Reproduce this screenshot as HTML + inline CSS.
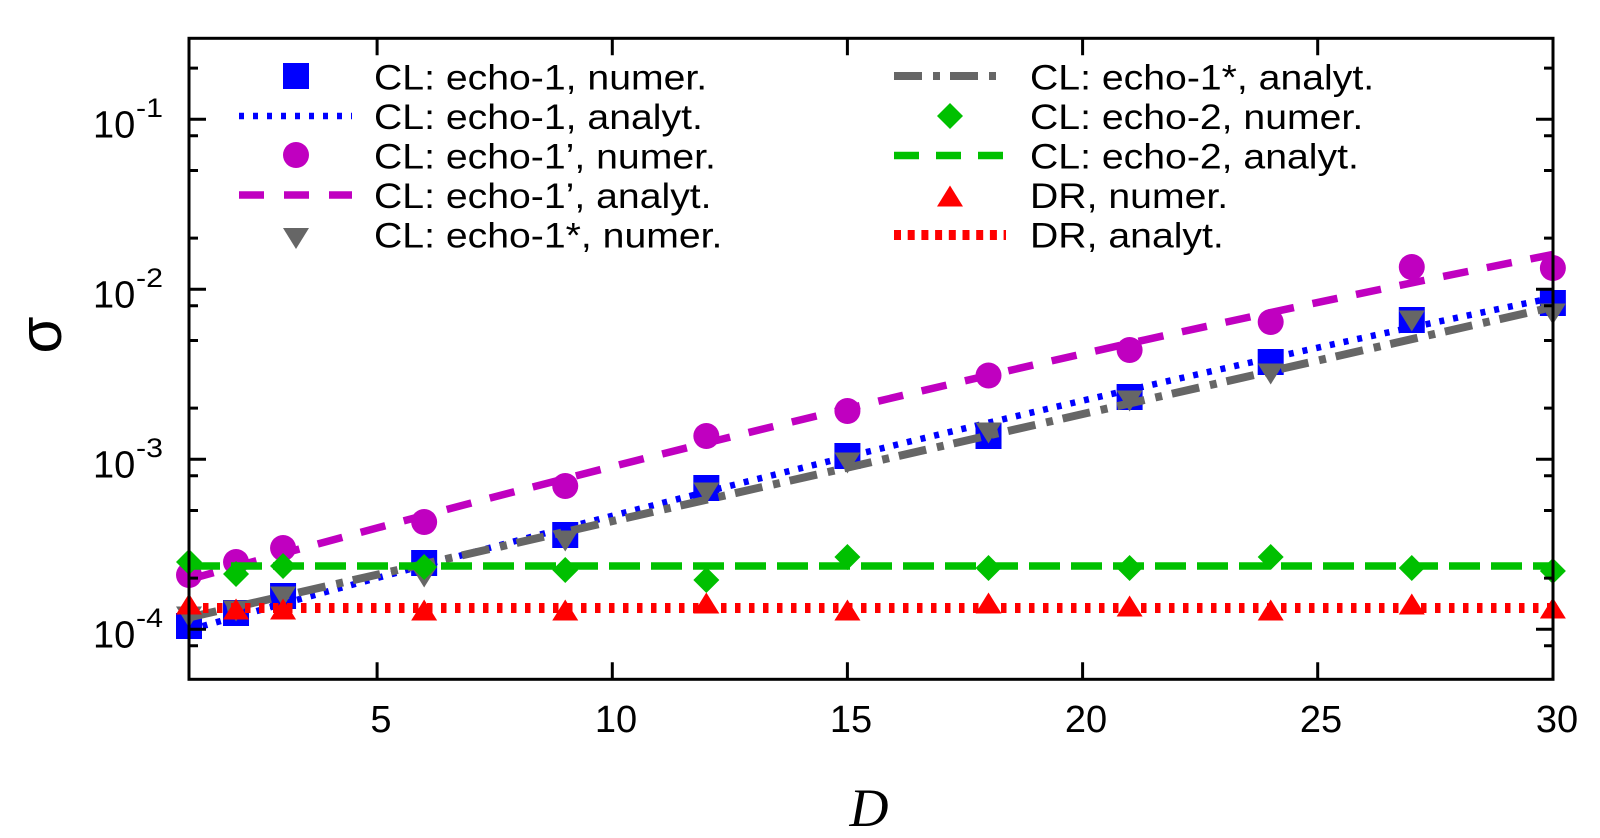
<!DOCTYPE html>
<html>
<head>
<meta charset="utf-8">
<style>
html,body{margin:0;padding:0;background:#fff;}
svg{display:block;}
text{font-family:"Liberation Sans",Arial,sans-serif;fill:#000;}
</style>
</head>
<body>
<svg width="1600" height="838" viewBox="0 0 1600 838" xmlns="http://www.w3.org/2000/svg">
<defs>
  <rect id="sq" x="-13" y="-13" width="26" height="26"/>
  <circle id="ci" cx="0" cy="0" r="13"/>
  <polygon id="tdn" points="-13,-10.5 13,-10.5 0,10.5"/>
  <polygon id="tup" points="-13,10.5 13,10.5 0,-10.5"/>
  <polygon id="dia" points="0,-13 13,0 0,13 -13,0"/>
</defs>
<rect width="1600" height="838" fill="#fff"/>

<!-- echo-1 numer: blue squares -->
<g fill="#0000ff">
  <use href="#sq" x="189" y="626"/>
  <use href="#sq" x="236.03" y="613"/>
  <use href="#sq" x="283.06" y="596"/>
  <use href="#sq" x="424.15" y="563"/>
  <use href="#sq" x="565.24" y="535"/>
  <use href="#sq" x="706.33" y="488"/>
  <use href="#sq" x="847.42" y="456"/>
  <use href="#sq" x="988.51" y="436"/>
  <use href="#sq" x="1129.6" y="397"/>
  <use href="#sq" x="1270.69" y="362"/>
  <use href="#sq" x="1411.78" y="320"/>
  <use href="#sq" x="1552.87" y="303"/>
</g>
<!-- echo-1 analyt: blue dotted -->
<path d="M189,629.93 Q871,438.1 1553,297.74" fill="none" stroke="#0000ff" stroke-width="6.5" stroke-dasharray="5 9"/>

<!-- echo-1' numer: magenta circles -->
<g fill="#c000c0">
  <use href="#ci" x="189" y="575"/>
  <use href="#ci" x="236.03" y="562"/>
  <use href="#ci" x="283.06" y="548"/>
  <use href="#ci" x="424.15" y="522"/>
  <use href="#ci" x="565.24" y="486"/>
  <use href="#ci" x="706.33" y="436"/>
  <use href="#ci" x="847.42" y="411"/>
  <use href="#ci" x="988.51" y="375.5"/>
  <use href="#ci" x="1129.6" y="350"/>
  <use href="#ci" x="1270.69" y="322"/>
  <use href="#ci" x="1411.78" y="267"/>
  <use href="#ci" x="1552.87" y="268"/>
</g>
<!-- echo-1' analyt: magenta dashed -->
<path d="M189,579.46 Q871,388.92 1553,254.43" fill="none" stroke="#c000c0" stroke-width="7.5" stroke-dasharray="25.5 19"/>

<!-- echo-1* numer: gray down triangles -->
<g fill="#666666">
  <use href="#tdn" x="189" y="617"/>
  <use href="#tdn" x="236.03" y="611"/>
  <use href="#tdn" x="283.06" y="597"/>
  <use href="#tdn" x="424.15" y="577"/>
  <use href="#tdn" x="565.24" y="541"/>
  <use href="#tdn" x="706.33" y="493"/>
  <use href="#tdn" x="847.42" y="463"/>
  <use href="#tdn" x="988.51" y="433"/>
  <use href="#tdn" x="1129.6" y="401"/>
  <use href="#tdn" x="1270.69" y="374"/>
  <use href="#tdn" x="1411.78" y="321"/>
  <use href="#tdn" x="1552.87" y="314"/>
</g>
<!-- echo-1* analyt: gray dash-dot -->
<path d="M189,617.5 L1553,307" fill="none" stroke="#666666" stroke-width="8" stroke-dasharray="28 11 7 10"/>

<!-- echo-2 numer: green diamonds -->
<g fill="#00c000">
  <use href="#dia" x="189" y="562"/>
  <use href="#dia" x="236.03" y="574"/>
  <use href="#dia" x="283.06" y="566"/>
  <use href="#dia" x="424.15" y="567"/>
  <use href="#dia" x="565.24" y="570"/>
  <use href="#dia" x="706.33" y="580"/>
  <use href="#dia" x="847.42" y="557"/>
  <use href="#dia" x="988.51" y="568"/>
  <use href="#dia" x="1129.6" y="568"/>
  <use href="#dia" x="1270.69" y="557"/>
  <use href="#dia" x="1411.78" y="568"/>
  <use href="#dia" x="1552.87" y="571"/>
</g>
<!-- echo-2 analyt: green dashed -->
<path d="M189,566 L1553,566" fill="none" stroke="#00c000" stroke-width="7.5" stroke-dasharray="31 11"/>

<!-- DR numer: red up triangles -->
<g fill="#ff0000">
  <use href="#tup" x="189" y="604"/>
  <use href="#tup" x="236.03" y="609"/>
  <use href="#tup" x="283.06" y="609"/>
  <use href="#tup" x="424.15" y="610"/>
  <use href="#tup" x="565.24" y="610"/>
  <use href="#tup" x="706.33" y="603"/>
  <use href="#tup" x="847.42" y="610"/>
  <use href="#tup" x="988.51" y="603"/>
  <use href="#tup" x="1129.6" y="606"/>
  <use href="#tup" x="1270.69" y="610"/>
  <use href="#tup" x="1411.78" y="604"/>
  <use href="#tup" x="1552.87" y="608"/>
</g>
<!-- DR analyt: red dotted -->
<path d="M189,608 L1553,608" fill="none" stroke="#ff0000" stroke-width="10" stroke-dasharray="5.5 8.5"/>

<!-- Legend column 1 -->
<use href="#sq" x="296" y="76" fill="#0000ff"/>
<line x1="239" y1="116" x2="352" y2="116" stroke="#0000ff" stroke-width="6.5" stroke-dasharray="5 9"/>
<use href="#ci" x="296" y="155" fill="#c000c0"/>
<line x1="239" y1="195" x2="352" y2="195" stroke="#c000c0" stroke-width="7.5" stroke-dasharray="25 20"/>
<use href="#tdn" x="296" y="238.5" fill="#666666"/>
<g font-size="35" transform="translate(374,0) scale(1.12,1) translate(-374,0)">
  <text x="374" y="89.5">CL: echo-1, numer.</text>
  <text x="374" y="129">CL: echo-1, analyt.</text>
  <text x="374" y="168.5">CL: echo-1’, numer.</text>
  <text x="374" y="208">CL: echo-1’, analyt.</text>
  <text x="374" y="247.5">CL: echo-1*, numer.</text>
</g>

<!-- Legend column 2 -->
<line x1="894" y1="76" x2="1006" y2="76" stroke="#666666" stroke-width="8" stroke-dasharray="28 11 7 10"/>
<use href="#dia" x="950" y="116" fill="#00c000"/>
<line x1="894" y1="155.5" x2="1006" y2="155.5" stroke="#00c000" stroke-width="7.5" stroke-dasharray="25 17"/>
<use href="#tup" x="950" y="196" fill="#ff0000"/>
<line x1="894" y1="235" x2="1006" y2="235" stroke="#ff0000" stroke-width="10" stroke-dasharray="7 6.7"/>
<g font-size="35" transform="translate(1030,0) scale(1.12,1) translate(-1030,0)">
  <text x="1030" y="89.5">CL: echo-1*, analyt.</text>
  <text x="1030" y="129">CL: echo-2, numer.</text>
  <text x="1030" y="168.5">CL: echo-2, analyt.</text>
  <text x="1030" y="208">DR, numer.</text>
  <text x="1030" y="247.5">DR, analyt.</text>
</g>

<!-- Frame and ticks -->
<g stroke="#000" stroke-width="3" fill="none">
  <rect x="189" y="38.3" width="1364" height="641"/>
  <path d="M377.1,679.3v-17 M612.3,679.3v-17 M847.4,679.3v-17 M1082.6,679.3v-17 M1317.7,679.3v-17
           M377.1,38.3v17 M612.3,38.3v17 M847.4,38.3v17 M1082.6,38.3v17 M1317.7,38.3v17"/>
  <path d="M189,629.3h17 M189,459.3h17 M189,289.3h17 M189,119.3h17
           M1553,629.3h-17 M1553,459.3h-17 M1553,289.3h-17 M1553,119.3h-17"/>
  <path d="M189,645.8h9 M189,578.1h9 M189,510.5h9 M189,475.8h9 M189,408.1h9 M189,340.5h9 M189,305.8h9 M189,238.1h9 M189,170.5h9 M189,135.8h9 M189,68.1h9
           M1553,645.8h-9 M1553,578.1h-9 M1553,510.5h-9 M1553,475.8h-9 M1553,408.1h-9 M1553,340.5h-9 M1553,305.8h-9 M1553,238.1h-9 M1553,170.5h-9 M1553,135.8h-9 M1553,68.1h-9"/>
</g>

<!-- Y tick labels -->
<g font-size="38">
  <text x="93" y="137.5">10</text>
  <text x="93" y="307.5">10</text>
  <text x="93" y="477.5">10</text>
  <text x="93" y="647.3">10</text>
</g>
<g font-size="27">
  <text x="136" y="117" textLength="27" lengthAdjust="spacingAndGlyphs">-1</text>
  <text x="136" y="287" textLength="27" lengthAdjust="spacingAndGlyphs">-2</text>
  <text x="136" y="457" textLength="27" lengthAdjust="spacingAndGlyphs">-3</text>
  <text x="136" y="627" textLength="27" lengthAdjust="spacingAndGlyphs">-4</text>
</g>

<!-- X tick labels -->
<g font-size="38" text-anchor="middle">
  <text x="381" y="732">5</text>
  <text x="616" y="732">10</text>
  <text x="851" y="732">15</text>
  <text x="1086" y="732">20</text>
  <text x="1321" y="732">25</text>
  <text x="1557" y="732">30</text>
</g>

<!-- Axis labels -->
<text x="869" y="826" font-size="54" text-anchor="middle" style="font-family:'Liberation Serif','Times New Roman',serif;font-style:italic;">D</text>
<text transform="translate(61,335) rotate(-90)" font-size="60" text-anchor="middle">σ</text>
</svg>
</body>
</html>
